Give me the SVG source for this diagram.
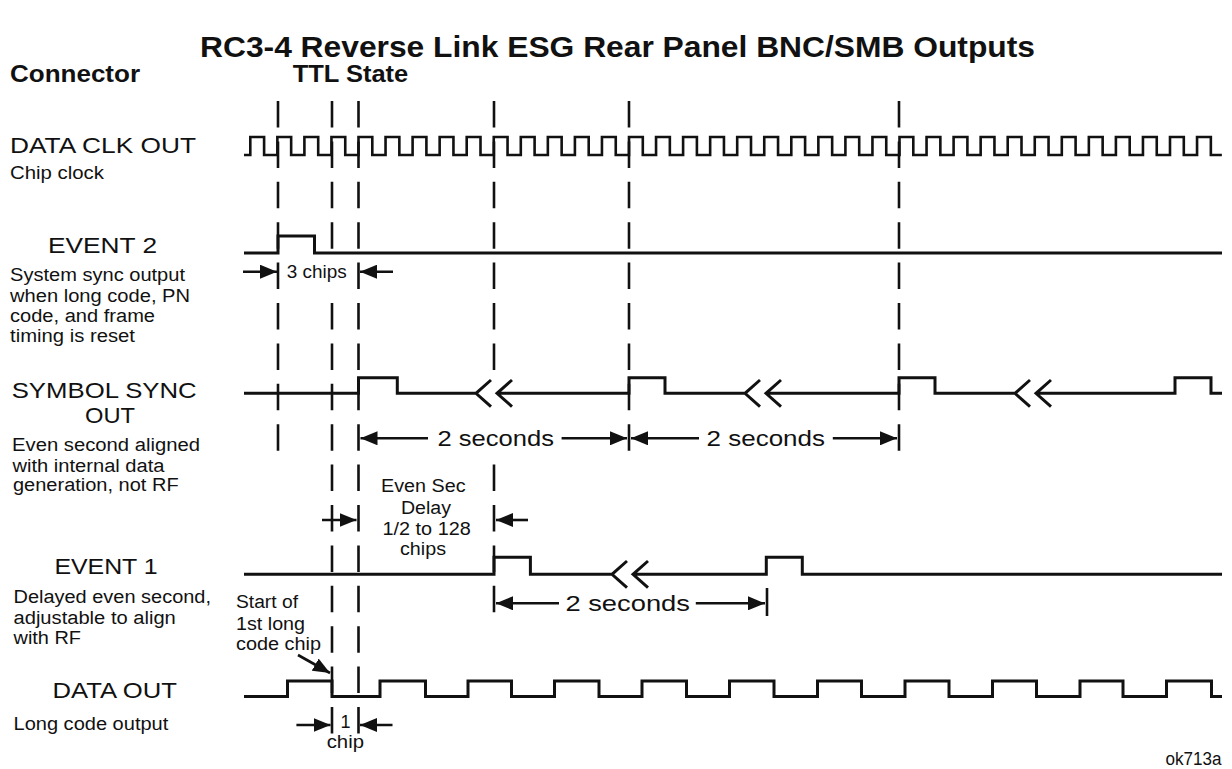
<svg xmlns="http://www.w3.org/2000/svg" width="1232" height="769" viewBox="0 0 1232 769">
<style>
text{font-family:"Liberation Sans",Arial,sans-serif;fill:#111}
.t{font-size:29px;font-weight:bold}
.h{font-size:23px;font-weight:bold}
.big{font-size:22.5px}
.sm{font-size:18px}
.wf{fill:none;stroke:#111;stroke-width:3;stroke-linejoin:miter}
.clk{fill:none;stroke:#111;stroke-width:2.6}
.dash{stroke:#111;stroke-width:2.6;stroke-dasharray:26.5 13.9}
.ar{stroke:#111;stroke-width:2.6;marker-end:url(#ah)}
.tk{stroke:#111;stroke-width:2.6}
</style>
<defs>
<marker id="ah" markerUnits="userSpaceOnUse" markerWidth="18" markerHeight="14" refX="17" refY="7" orient="auto">
<path d="M0,0 L17,7 L0,14 z" fill="#111"/>
</marker>
</defs>
<rect width="1232" height="769" fill="#fff"/>
<text class="t" x="200" y="57" textLength="835" lengthAdjust="spacingAndGlyphs">RC3-4 Reverse Link ESG Rear Panel BNC/SMB Outputs</text>
<text class="h" x="10" y="81.7" textLength="130" lengthAdjust="spacingAndGlyphs">Connector</text>
<text class="h" x="292.7" y="81.7" textLength="115.6" lengthAdjust="spacingAndGlyphs">TTL State</text>

<g id="guides">
<line class="dash" x1="278" y1="101" x2="278" y2="451"/>
<line class="dash" x1="332" y1="101" x2="332" y2="249"/>
<line class="dash" x1="332" y1="303" x2="332" y2="734"/>
<line class="dash" x1="358.5" y1="101" x2="358.5" y2="734"/>
<line class="dash" x1="494" y1="101" x2="494" y2="370"/>
<line class="dash" x1="494" y1="464.6" x2="494" y2="612.5"/>
<line class="dash" x1="629" y1="101" x2="629" y2="451"/>
<line class="dash" x1="899" y1="101" x2="899" y2="451"/>
</g>

<g id="data-clk-out">
<text class="big" x="10" y="153" textLength="186" lengthAdjust="spacingAndGlyphs">DATA CLK OUT</text>
<text class="sm" x="10" y="179" textLength="94" lengthAdjust="spacingAndGlyphs">Chip clock</text>
<path class="clk" d="M244,155 H250.3 v-18h13.8v18h13.25v-18h13.8v18h13.25v-18h13.8v18h13.25v-18h13.8v18h13.25v-18h13.8v18h13.25 v-18h13.8v18h13.25v-18h13.8v18h13.25v-18h13.8v18h13.25v-18h13.8v18h13.25v-18h13.8v18h13.25 v-18h13.8v18h13.25v-18h13.8v18h13.25v-18h13.8v18h13.25v-18h13.8v18h13.25v-18h13.8v18h13.25 v-18h13.8v18h13.25v-18h13.8v18h13.25v-18h13.8v18h13.25v-18h13.8v18h13.25v-18h13.8v18h13.25 v-18h13.8v18h13.25v-18h13.8v18h13.25v-18h13.8v18h13.25v-18h13.8v18h13.25v-18h13.8v18h13.25 v-18h13.8v18h13.25v-18h13.8v18h13.25v-18h13.8v18h13.25v-18h13.8v18h13.25v-18h13.8v18h13.25 v-18h13.8v18h13.25v-18h13.8v18h13.25v-18h13.8v18h13.25v-18h13.8v18h13.25v-18h13.8v18h13.25 v-18h13.8v18h11"/>
</g>

<g id="event-2">
<text class="big" x="48" y="253.3" textLength="109" lengthAdjust="spacingAndGlyphs">EVENT 2</text>
<text class="sm" x="10" y="281" textLength="175" lengthAdjust="spacingAndGlyphs">System sync output</text>
<text class="sm" x="10" y="301.5" textLength="180" lengthAdjust="spacingAndGlyphs">when long code, PN</text>
<text class="sm" x="10" y="322" textLength="145" lengthAdjust="spacingAndGlyphs">code, and frame</text>
<text class="sm" x="10" y="342.3" textLength="125" lengthAdjust="spacingAndGlyphs">timing is reset</text>
<path class="wf" d="M244,253 H278 V236 H314.5 V253 H1222"/>
</g>

<g id="symbol-sync-out">
<text class="big" x="11.7" y="398.3" textLength="185" lengthAdjust="spacingAndGlyphs">SYMBOL SYNC</text>
<text class="big" x="85" y="423.3" textLength="50" lengthAdjust="spacingAndGlyphs">OUT</text>
<text class="sm" x="12" y="451" textLength="188" lengthAdjust="spacingAndGlyphs">Even second aligned</text>
<text class="sm" x="12.5" y="471.5" textLength="152" lengthAdjust="spacingAndGlyphs">with internal data</text>
<text class="sm" x="13" y="491" textLength="165.6" lengthAdjust="spacingAndGlyphs">generation, not RF</text>
<path class="wf" d="M244,393.3 H358.5 V377.7 H397.3 V393.3 H476 M491,380 L476,393.3 L491,406.6 M512,380 L497,393.3 L512,406.6 M497,393.3 H629 V377.7 H665 V393.3 H745 M760,380 L745,393.3 L760,406.6 M781,380 L766,393.3 L781,406.6 M766,393.3 H899 V377.7 H935 V393.3 H1015 M1030,380 L1015,393.3 L1030,406.6 M1051,380 L1036,393.3 L1051,406.6 M1036,393.3 H1175 V377.7 H1211 V393.3 H1222"/>
</g>

<g id="event-1">
<text class="big" x="54.4" y="574.3" textLength="103.2" lengthAdjust="spacingAndGlyphs">EVENT 1</text>
<text class="sm" x="13.5" y="603.3" textLength="197.5" lengthAdjust="spacingAndGlyphs">Delayed even second,</text>
<text class="sm" x="13.5" y="624" textLength="162.3" lengthAdjust="spacingAndGlyphs">adjustable to align</text>
<text class="sm" x="13.5" y="644" textLength="67.5" lengthAdjust="spacingAndGlyphs">with RF</text>
<path class="wf" d="M244,574.3 H494 V557.3 H530.4 V574.3 H612 M627,561 L612,574.3 L627,587.6 M648,561 L633,574.3 L648,587.6 M633,574.3 H766.3 V557.3 H802.3 V574.3 H1222"/>
</g>

<g id="data-out">
<text class="big" x="52.6" y="698.3" textLength="124.4" lengthAdjust="spacingAndGlyphs">DATA OUT</text>
<text class="sm" x="13.5" y="730" textLength="154.8" lengthAdjust="spacingAndGlyphs">Long code output</text>
<path class="wf" d="M244,696.5 H287.5 V681 H332 V696.5 H380 V681 H425.5 V696.5 H468 V681 H511.5 V696.5 H554.5 V681 H599 V696.5 H642 V681 H686.5 V696.5 H729.5 V681 H774 V696.5 H817.5 V681 H861.5 V696.5 H905 V681 H949 V696.5 H992.5 V681 H1036.5 V696.5 H1080 V681 H1123 V696.5 H1166.5 V681 H1211.5 V696.5 H1222"/>
</g>

<g id="connectors">
<line class="ar" x1="243" y1="271.7" x2="277" y2="271.7"/>
<line class="ar" x1="393" y1="271.7" x2="360" y2="271.7"/>
<line class="ar" x1="428" y1="438.3" x2="360.5" y2="438.3"/>
<line class="ar" x1="561.6" y1="438.3" x2="627" y2="438.3"/>
<line class="ar" x1="699" y1="438.3" x2="631" y2="438.3"/>
<line class="ar" x1="832.8" y1="438.3" x2="897" y2="438.3"/>
<line class="ar" x1="322" y1="520" x2="356.5" y2="520"/>
<line class="ar" x1="528" y1="520" x2="496" y2="520"/>
<line class="ar" x1="559" y1="603.3" x2="496" y2="603.3"/>
<line class="ar" x1="695.8" y1="603.3" x2="765" y2="603.3"/>
<line class="tk" x1="767" y1="588" x2="767" y2="616"/>
<line class="ar" x1="298" y1="655" x2="330" y2="673"/>
<line class="ar" x1="296.4" y1="725" x2="330.5" y2="725"/>
<line class="ar" x1="392.5" y1="725" x2="360" y2="725"/>
</g>

<g id="labels">
<text class="sm" x="286.7" y="278.3" textLength="60" lengthAdjust="spacingAndGlyphs">3 chips</text>
<text class="big" x="437.5" y="446" textLength="116.5" lengthAdjust="spacingAndGlyphs">2 seconds</text>
<text class="big" x="706.6" y="446" textLength="118.4" lengthAdjust="spacingAndGlyphs">2 seconds</text>
<text class="big" x="565.4" y="611" textLength="124.6" lengthAdjust="spacingAndGlyphs">2 seconds</text>
<text class="sm" x="381" y="492" textLength="84.5" lengthAdjust="spacingAndGlyphs">Even Sec</text>
<text class="sm" x="401" y="514" textLength="50" lengthAdjust="spacingAndGlyphs">Delay</text>
<text class="sm" x="382.5" y="535" textLength="88.3" lengthAdjust="spacingAndGlyphs">1/2 to 128</text>
<text class="sm" x="400" y="555" textLength="46" lengthAdjust="spacingAndGlyphs">chips</text>
<text class="sm" x="236" y="608.3" textLength="62" lengthAdjust="spacingAndGlyphs">Start of</text>
<text class="sm" x="236" y="630" textLength="69" lengthAdjust="spacingAndGlyphs">1st long</text>
<text class="sm" x="236" y="650" textLength="85" lengthAdjust="spacingAndGlyphs">code chip</text>
<text class="sm" x="340.5" y="728.3">1</text>
<text class="sm" x="326.7" y="748.3" textLength="37.3" lengthAdjust="spacingAndGlyphs">chip</text>
<text class="sm" x="1165.5" y="765" textLength="56" lengthAdjust="spacingAndGlyphs">ok713a</text>
</g>
</svg>
